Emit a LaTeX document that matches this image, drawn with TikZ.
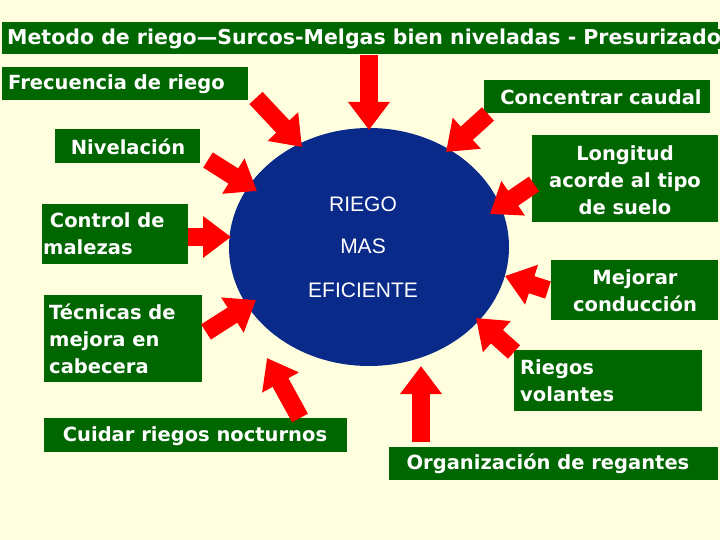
\documentclass[tikz,border=0pt]{standalone}
\usepackage{fontspec}
\setmainfont{DejaVu Sans}
\newfontfamily\arialf{Liberation Sans}
\usetikzlibrary{arrows.meta}
\definecolor{bg}{HTML}{FFFFE0}
\definecolor{gbox}{HTML}{006600}
\definecolor{navy}{HTML}{0A2A8A}
\begin{document}
\begin{tikzpicture}[x=1pt,y=-1pt,
  box/.style={fill=gbox,text=white,font=\bfseries\fontsize{19.5}{27}\selectfont,inner sep=0pt},
  barrow/.style={draw=red,line width=18pt,-{Triangle[width=40pt,length=28pt]}},
  ctext/.style={text=white,font=\arialf\fontsize{21}{24}\selectfont}]
\fill[bg] (0,0) rectangle (720,540);
\useasboundingbox (0,0) rectangle (720,540);
\fill[navy] (369,247) ellipse [x radius=140, y radius=119];
\node[ctext] (c1) at (363,204) {RIEGO};
\node[ctext] (c2) at (363,246) {MAS};
\node[ctext] (c3) at (363,290) {EFICIENTE};
\fill[gbox] (2,22) rectangle (718,54); \node[box,anchor=west,font=\bfseries\fontsize{20.5}{22}\selectfont] (t) at (7,39) {Metodo de riego—Surcos-Melgas bien niveladas - Presurizado};
\fill[gbox] (2,67) rectangle (248,100); \node[box,anchor=west] (f) at (8,84) {Frecuencia de riego};
\fill[gbox] (484,80) rectangle (710,113); \node[box] (cc) at (601,97) {Concentrar caudal};
\fill[gbox] (55,129) rectangle (200,163); \node[box] (n) at (128,147) {Nivelación};
\fill[gbox] (532,135) rectangle (718,222); \node[box,align=center] (l) at (625,180) {Longitud\\acorde al tipo\\de suelo};
\fill[gbox] (42,204) rectangle (188,264); \node[box,align=left,anchor=west] (m) at (43,234) {\ Control de\\malezas};
\fill[gbox] (551,260) rectangle (718,320); \node[box,align=center] (mc) at (635,291) {Mejorar\\conducción};
\fill[gbox] (44,295) rectangle (202,382); \node[box,align=left,anchor=west] (tc) at (49,339) {Técnicas de\\mejora en\\cabecera};
\fill[gbox] (514,350) rectangle (702,411); \node[box,align=left,anchor=west] (rv) at (520,381) {Riegos\\volantes};
\fill[gbox] (44,418) rectangle (347,452); \node[box] (cr) at (195,436) {Cuidar riegos nocturnos};
\fill[gbox] (389,447) rectangle (718,480); \node[box] (o) at (548,464) {Organización de regantes};
\coordinate (a1) at (369,55); \coordinate (b1) at (369,130);
\coordinate (a2) at (256,98); \coordinate (b2) at (302,147);
\coordinate (a3) at (488,114); \coordinate (b3) at (446,152);
\coordinate (a4) at (208,160); \coordinate (b4) at (257,191);
\coordinate (a5) at (534,184); \coordinate (b5) at (490,214);
\coordinate (a6) at (188,237); \coordinate (b6) at (231,237);
\coordinate (a7) at (548,290); \coordinate (b7) at (505,276);
\coordinate (a8) at (514,352); \coordinate (b8) at (476,318);
\coordinate (a9) at (206,332); \coordinate (b9) at (256,300);
\coordinate (a10) at (300,418); \coordinate (b10) at (267,358);
\coordinate (a11) at (421,442); \coordinate (b11) at (421,366);
\foreach \i in {1,...,11} \draw[barrow] (a\i) -- (b\i);
\end{tikzpicture}
\end{document}
